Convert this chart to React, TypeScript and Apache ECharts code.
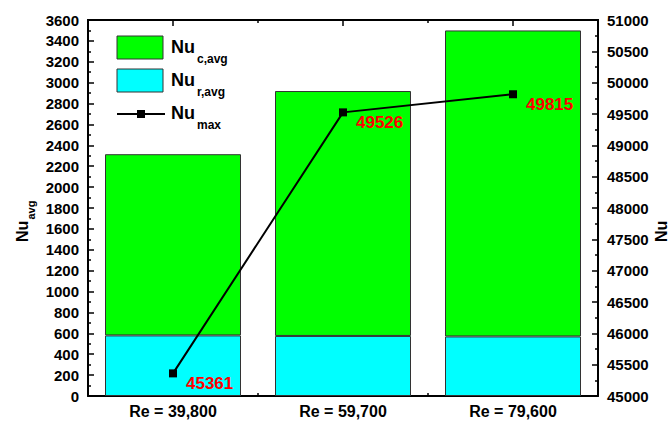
import React, { useEffect, useRef } from "react";
import * as echarts from "echarts";

const categories = ["Re = 39,800", "Re = 59,700", "Re = 79,600"];
const nuRadial = [580, 575, 570];
const nuConv = [1735, 2345, 2930];
const nuMax = [45361, 49526, 49815];

const FONT = 'Arial, "Liberation Sans", sans-serif';
const GREEN = "#00ff00";
const CYAN = "#00ffff";

function txt(text: string, x: number, y: number, size: number, extra: any = {}) {
  return {
    type: "text",
    z: 100,
    style: {
      text,
      x,
      y,
      fill: "#000",
      fontSize: size,
      fontWeight: "bold",
      fontFamily: FONT,
      align: "left",
      verticalAlign: "middle",
      textAlign: "left",
      textVerticalAlign: "middle",
      ...extra,
    },
  };
}

export default function App() {
  const ref = useRef<HTMLDivElement>(null);
  useEffect(() => {
    if (!ref.current) return;
    const chart = echarts.init(ref.current, undefined, { renderer: "svg" });
    const axisLine = { show: true, lineStyle: { color: "#000", width: 2 } };
    const tickStyle = { color: "#000", width: 1.5 };
    const plain = (v: number) => String(v);
    const xBase = (pos: "top" | "bottom", center: boolean, len: number, labels: boolean) => ({
      type: "category",
      data: categories,
      position: pos,
      gridIndex: 0,
      axisLine: labels || pos === "top" ? axisLine : { show: false },
      axisTick: { show: true, inside: true, length: len, alignWithLabel: center, lineStyle: tickStyle },
      axisLabel: labels
        ? { show: true, color: "#000", fontSize: 16, fontWeight: "bold", fontFamily: FONT, margin: 7 }
        : { show: false },
      splitLine: { show: false },
    });
    const rows = [47.5, 80.5, 113.5];
    chart.setOption({
      animation: false,
      grid: { left: 88, right: 72, top: 20, bottom: 25, containLabel: false },
      xAxis: [
        xBase("bottom", true, 6, true),
        xBase("bottom", false, 3, false),
        xBase("top", true, 6, false),
        xBase("top", false, 3, false),
      ],
      yAxis: [
        {
          type: "value",
          position: "left",
          min: 0,
          max: 3600,
          interval: 200,
          axisLine,
          axisTick: { show: true, inside: true, length: 6, lineStyle: tickStyle },
          minorTick: { show: true, splitNumber: 2, length: 3, lineStyle: tickStyle },
          splitLine: { show: false },
          axisLabel: { color: "#000", fontSize: 15, fontWeight: "bold", fontFamily: FONT, margin: 9, formatter: plain },
        },
        {
          type: "value",
          position: "right",
          min: 45000,
          max: 51000,
          interval: 500,
          axisLine,
          axisTick: { show: true, inside: true, length: 6, lineStyle: tickStyle },
          minorTick: { show: true, splitNumber: 2, length: 3, lineStyle: tickStyle },
          splitLine: { show: false },
          axisLabel: { color: "#000", fontSize: 15, fontWeight: "bold", fontFamily: FONT, margin: 9, formatter: plain },
        },
      ],
      series: [
        {
          name: "Nu r,avg",
          type: "bar",
          stack: "nu",
          barWidth: "80%",
          data: nuRadial,
          itemStyle: { color: CYAN, borderColor: "#333", borderWidth: 1 },
        },
        {
          name: "Nu c,avg",
          type: "bar",
          stack: "nu",
          barWidth: "80%",
          data: nuConv,
          itemStyle: { color: GREEN, borderColor: "#333", borderWidth: 1 },
        },
        {
          name: "Nu max",
          type: "line",
          yAxisIndex: 1,
          z: 5,
          data: nuMax,
          symbol: "rect",
          symbolSize: 8,
          itemStyle: { color: "#000" },
          lineStyle: { color: "#000", width: 2 },
          label: {
            show: true,
            position: "right",
            distance: 9,
            offset: [0, 10],
            color: "#ff0000",
            fontSize: 17,
            fontWeight: "bold",
            fontFamily: FONT,
          },
        },
      ],
      graphic: [
        {
          type: "rect",
          z: 100,
          shape: { x: 117, y: rows[0] - 11.5, width: 46, height: 23 },
          style: { fill: GREEN, stroke: "#333", lineWidth: 1 },
        },
        {
          type: "rect",
          z: 100,
          shape: { x: 117, y: rows[1] - 11.5, width: 46, height: 23 },
          style: { fill: CYAN, stroke: "#333", lineWidth: 1 },
        },
        {
          type: "line",
          z: 100,
          shape: { x1: 117, y1: rows[2] + 0.5, x2: 165, y2: rows[2] + 0.5 },
          style: { stroke: "#000", lineWidth: 2 },
        },
        {
          type: "rect",
          z: 101,
          shape: { x: 137, y: rows[2] - 3.5, width: 8, height: 8 },
          style: { fill: "#000" },
        },
        txt("Nu", 171, rows[0] - 0.5, 18),
        txt("c,avg", 197, rows[0] + 11, 12),
        txt("Nu", 171, rows[1] - 0.5, 18),
        txt("r,avg", 197, rows[1] + 11, 12),
        txt("Nu", 171, rows[2] - 0.5, 18),
        txt("max", 197, rows[2] + 11.5, 12),
        {
          type: "group",
          x: 22,
          y: 231,
          rotation: Math.PI / 2,
          children: [txt("Nu", -11, 0, 16), txt("avg", 11.5, 9, 11)],
        },
        {
          type: "group",
          x: 661,
          y: 231,
          rotation: Math.PI / 2,
          children: [txt("Nu", -11, 0, 16)],
        },
      ],
    });
    return () => chart.dispose();
  }, []);
  return <div ref={ref} style={{ width: 670, height: 421, position: "absolute", left: 0, top: 0 }} />;
}
